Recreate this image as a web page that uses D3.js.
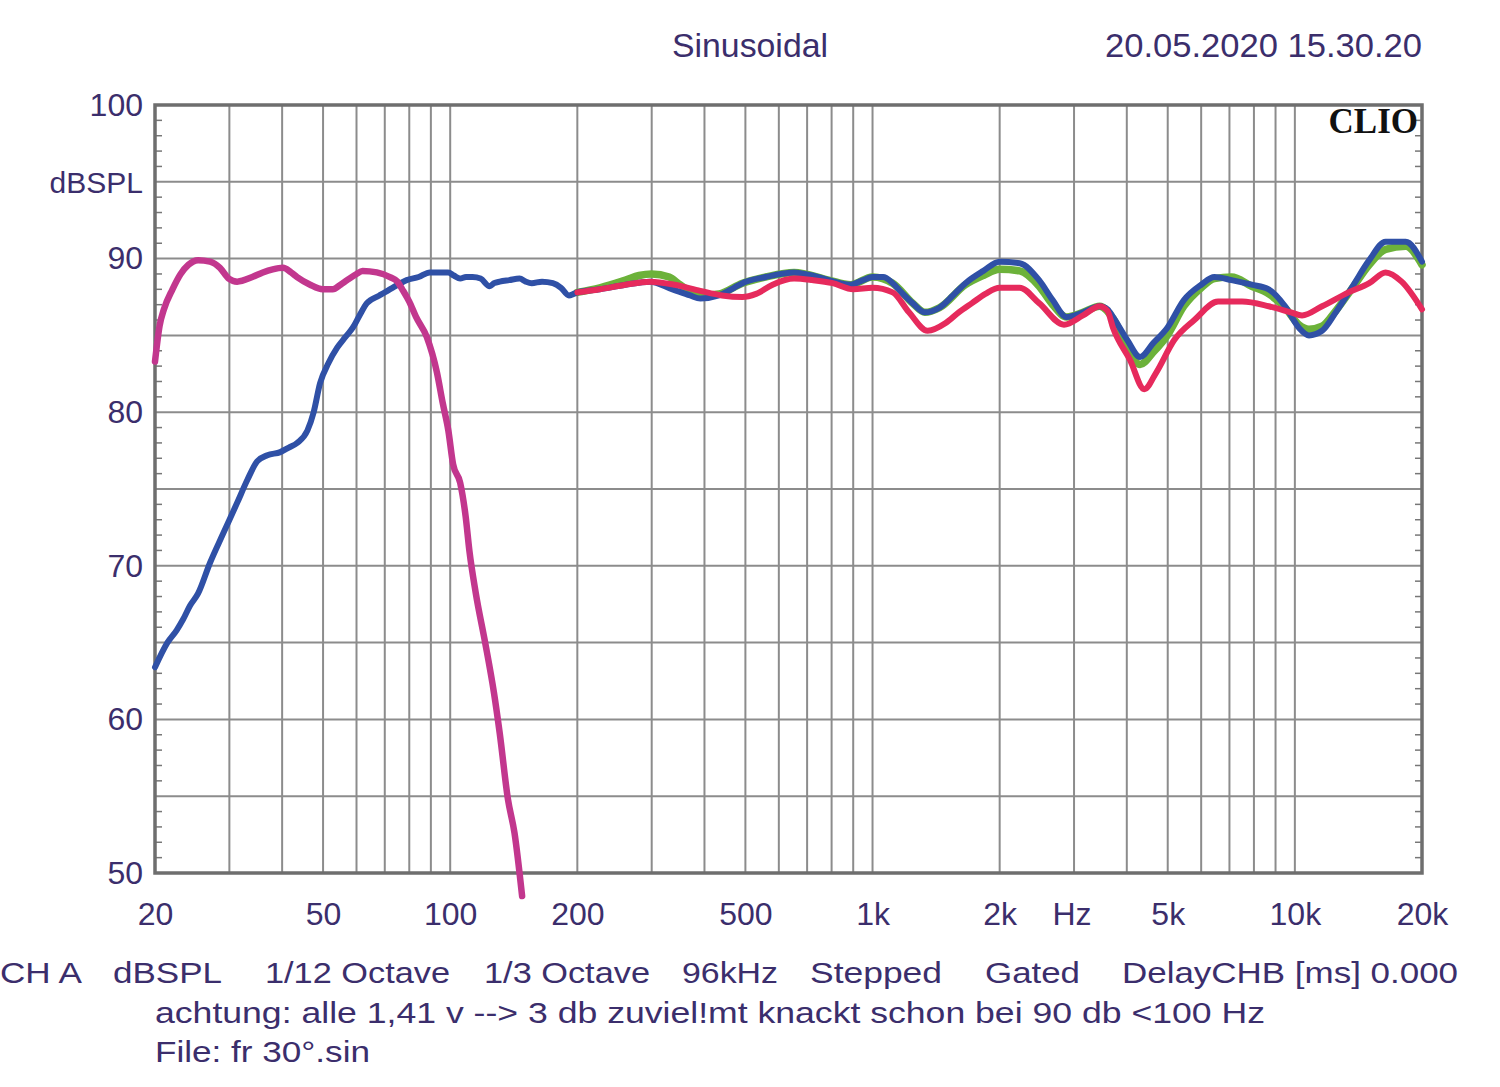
<!DOCTYPE html>
<html><head><meta charset="utf-8">
<script src="https://cdn.jsdelivr.net/npm/d3@7"></script>
<style>body{margin:0;background:#fff}svg{display:block}</style>
</head><body>
<svg id="c" width="1500" height="1087"></svg>
<script>
// ---------- data ----------
const xTicks = [20, 50, 100, 200, 500, 1000, 2000, 5000, 10000, 20000];
const xTickLabels = ["20", "50", "100", "200", "500", "1k", "2k", "5k", "10k", "20k"];
const yTicks = [50, 60, 70, 80, 90, 100];
const xGrid = [20,30,40,50,60,70,80,90,100,200,300,400,500,600,700,800,900,1000,2000,3000,4000,5000,6000,7000,8000,9000,10000,20000];

// woofer (magenta), 20 Hz .. ~150 Hz
const magentaCurve = [[20,83.3],[20.5,85.6],[21,86.7],[22,88.0],[23,89.0],[24,89.6],[25.3,89.9],[27,89.8],[28.5,89.4],[29.9,88.7],[31.3,88.5],[34,88.8],[36,89.1],[38,89.3],[40.2,89.4],[42,89.1],[43.4,88.8],[46.6,88.3],[49.9,88.0],[52.7,88.0],[55,88.3],[57,88.6],[60,89.0],[62,89.2],[67,89.1],[72,88.8],[75,88.5],[77,88.0],[80,87.2],[83,86.2],[88,84.9],[93,82.6],[96,80.6],[99,78.8],[101.6,76.6],[105.6,75.4],[108.8,73.2],[111,71.0],[115,68.2],[121,65.0],[127,61.7],[131,59.1],[137,54.8],[142,52.6],[148,48.5]];

// blue, 20 Hz .. 20 kHz
const blueCurve = [[20,63.4],[21.4,65.0],[22.5,65.8],[23.3,66.5],[24.2,67.4],[25.3,68.2],[27,70.2],[29,72.1],[31.3,74.1],[33.1,75.6],[34.9,76.8],[36.9,77.2],[39.6,77.4],[41.5,77.7],[43.4,78.0],[45.9,78.8],[47.5,80.0],[49.2,81.9],[51.5,83.2],[54,84.2],[56.5,84.9],[58.8,85.5],[61,86.3],[63.5,87.1],[68,87.6],[73,88.1],[78.9,88.6],[84.2,88.8],[89.5,89.1],[93,89.1],[98.9,89.1],[102,88.9],[105.6,88.7],[109,88.8],[113,88.8],[118,88.7],[124,88.2],[127,88.4],[131,88.5],[138,88.6],[146,88.7],[151,88.5],[156,88.4],[165,88.5],[175,88.4],[183,88.1],[191,87.6],[196,87.7],[200,87.8],
  [226,88.0],[260,88.3],[297,88.5],[336,88.0],[370,87.6],[391,87.4],[433,87.6],[470,88.1],[492,88.4],[558,88.8],[652,89.1],[720,88.9],[787,88.6],[887,88.3],[950,88.6],[1000,88.8],[1060,88.8],[1116,88.4],[1180,87.7],[1244,87.1],[1330,86.5],[1440,86.8],[1550,87.6],[1660,88.4],[1830,89.2],[2000,89.8],[2230,89.7],[2480,88.6],[2670,87.3],[2880,86.2],[3150,86.5],[3450,86.9],[3600,86.7],[3710,86.2],[4010,84.7],[4300,83.6],[4620,84.5],[4990,85.5],[5460,87.3],[6000,88.3],[6450,88.8],[7080,88.6],[7900,88.3],[8670,88.0],[9480,86.9],[10220,85.5],[10800,85.0],[11600,85.3],[12500,86.5],[13700,88.2],[15000,89.9],[16400,91.1],[18300,91.1],[20000,89.8]];

// green, 200 Hz .. 20 kHz
const greenCurve = [[200,87.8],[226,88.1],[260,88.6],[280,88.9],[300,89.0],[330,88.8],[350,88.3],[391,87.6],[433,87.7],[492,88.4],[558,88.8],[652,89.1],[787,88.6],[887,88.3],[1000,88.8],[1116,88.4],[1244,87.1],[1330,86.5],[1440,86.8],[1660,88.3],[1830,88.9],[2000,89.3],[2230,89.2],[2480,88.2],[2670,87.0],[2880,86.2],[3150,86.5],[3450,86.9],[3710,86.1],[4010,84.3],[4300,83.1],[4620,83.9],[4990,85.0],[5460,86.9],[6000,88.1],[6450,88.7],[7080,88.8],[7900,88.2],[8670,87.7],[9480,86.8],[10220,85.7],[10800,85.4],[11600,85.6],[12500,86.6],[13700,88.1],[15000,89.6],[16400,90.6],[18300,90.8],[20000,89.6]];

// red, 200 Hz .. 20 kHz
const redCurve = [[200,87.8],[226,88.0],[260,88.3],[297,88.5],[340,88.3],[391,87.9],[440,87.6],[492,87.5],[530,87.7],[580,88.3],[652,88.7],[720,88.6],[805,88.4],[900,88.0],[1000,88.1],[1116,87.8],[1220,86.5],[1350,85.3],[1490,85.8],[1600,86.5],[1720,87.1],[1850,87.7],[2000,88.1],[2230,88.1],[2480,87.1],[2840,85.7],[3150,86.3],[3450,86.9],[3600,86.6],[3710,85.5],[4070,83.4],[4400,81.5],[4700,82.6],[5180,84.7],[5780,86.0],[6580,87.2],[7500,87.2],[8670,86.9],[9790,86.5],[10400,86.3],[11600,86.9],[13400,87.8],[15000,88.4],[16400,89.1],[17900,88.5],[20000,86.7]];

const infoLine = [["CH A",0,82],["dBSPL",113,109],["1/12 Octave",265,185],["1/3 Octave",484,166],["96kHz",682,96],["Stepped",810,132],["Gated",985,95],["DelayCHB [ms] 0.000",1122,336]];

// ---------- drawing ----------
const TXT = "#3b2e6c";
const SANS = "Arial, 'Liberation Sans', sans-serif";
const svg = d3.select("#c");
const L = 155, R = 1422, T = 105, B = 873;
const x = d3.scaleLog().domain([20, 20000]).range([L, R]);
const y = d3.scaleLinear().domain([50, 100]).range([B, T]);

// grid
const g = svg.append("g");
g.selectAll("line.v").data(xGrid).join("line")
  .attr("x1", d => x(d)).attr("x2", d => x(d)).attr("y1", T).attr("y2", B)
  .attr("stroke", "#8c8c8c").attr("stroke-width", 2);
g.selectAll("line.h").data(d3.range(50, 101, 5)).join("line")
  .attr("x1", L).attr("x2", R).attr("y1", d => y(d)).attr("y2", d => y(d))
  .attr("stroke", "#8c8c8c").attr("stroke-width", 2);
const minor = d3.range(51, 100).filter(d => d % 5 !== 0);
g.selectAll("line.ml").data(minor).join("line")
  .attr("x1", L).attr("x2", L + 7).attr("y1", d => y(d)).attr("y2", d => y(d))
  .attr("stroke", "#777").attr("stroke-width", 1.5);
g.selectAll("line.mr").data(minor).join("line")
  .attr("x1", R - 7).attr("x2", R).attr("y1", d => y(d)).attr("y2", d => y(d))
  .attr("stroke", "#777").attr("stroke-width", 1.5);
svg.append("rect").attr("x", L).attr("y", T).attr("width", R - L).attr("height", B - T)
  .attr("fill", "none").attr("stroke", "#6e6e6e").attr("stroke-width", 3.5);

// axes (labels only)
const ax = svg.append("g").attr("transform", `translate(0,${B})`)
  .call(d3.axisBottom(x).tickValues(xTicks).tickFormat((d, i) => xTickLabels[i]).tickSize(0).tickPadding(29));
ax.attr("font-family", SANS).attr("font-size", 32);
ax.select(".domain").remove();
ax.selectAll("text").attr("fill", TXT);
const ay = svg.append("g").attr("transform", `translate(${L},0)`)
  .call(d3.axisLeft(y).tickValues(yTicks).tickSize(0).tickPadding(12));
ay.attr("font-family", SANS).attr("font-size", 32);
ay.select(".domain").remove();
ay.selectAll("text").attr("fill", TXT);

svg.append("text").attr("x", 1072).attr("y", 925).attr("text-anchor", "middle")
  .attr("font-family", SANS).attr("font-size", 32).attr("fill", TXT).text("Hz");
svg.append("text").attr("x", 143).attr("y", 193).attr("text-anchor", "end")
  .attr("font-family", SANS).attr("font-size", 30).attr("fill", TXT).text("dBSPL");

// curves
const line = d3.line().x(d => x(d[0])).y(d => y(d[1])).curve(d3.curveMonotoneX);
const curves = [
  [greenCurve, "#6cb23a", 7.5],
  [blueCurve, "#2f50a6", 6],
  [redCurve, "#e62a5c", 6],
  [magentaCurve, "#c2378e", 6.5]
];
svg.append("g").selectAll("path").data(curves).join("path")
  .attr("d", d => line(d[0])).attr("fill", "none")
  .attr("stroke", d => d[1]).attr("stroke-width", d => d[2])
  .attr("stroke-linejoin", "round").attr("stroke-linecap", "round");

// header texts
svg.append("text").attr("x", 672).attr("y", 57).attr("font-family", SANS).attr("font-size", 33).attr("fill", TXT)
  .attr("textLength", 156).attr("lengthAdjust", "spacingAndGlyphs").text("Sinusoidal");
svg.append("text").attr("x", 1105).attr("y", 57).attr("font-family", SANS).attr("font-size", 33).attr("fill", TXT)
  .attr("textLength", 317).attr("lengthAdjust", "spacingAndGlyphs").text("20.05.2020 15.30.20");
svg.append("text").attr("x", 1418).attr("y", 133).attr("text-anchor", "end")
  .attr("font-family", "'Liberation Serif', 'Times New Roman', serif").attr("font-weight", "bold")
  .attr("font-size", 35).attr("fill", "#111").text("CLIO");

// footer texts
svg.append("g").selectAll("text").data(infoLine).join("text")
  .attr("x", d => d[1]).attr("y", 983).attr("font-family", SANS).attr("font-size", 29).attr("fill", TXT)
  .attr("textLength", d => d[2]).attr("lengthAdjust", "spacingAndGlyphs").text(d => d[0]);
svg.append("text").attr("x", 155).attr("y", 1023).attr("font-family", SANS).attr("font-size", 29).attr("fill", TXT)
  .attr("textLength", 1110).attr("lengthAdjust", "spacingAndGlyphs")
  .text("achtung: alle 1,41 v --> 3 db zuviel!mt knackt schon bei 90 db <100 Hz");
svg.append("text").attr("x", 155).attr("y", 1062).attr("font-family", SANS).attr("font-size", 29).attr("fill", TXT)
  .attr("textLength", 215).attr("lengthAdjust", "spacingAndGlyphs").text("File: fr 30°.sin");
</script>
</body></html>
